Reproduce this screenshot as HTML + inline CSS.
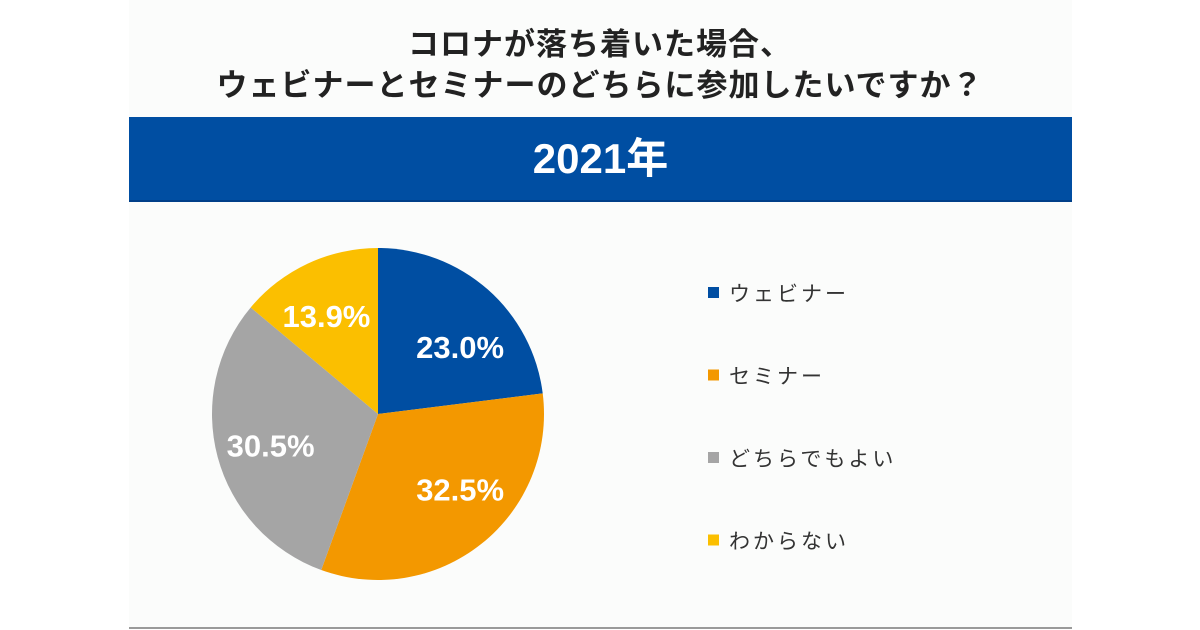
<!DOCTYPE html>
<html><head><meta charset="utf-8">
<style>
body{margin:0;width:1200px;height:630px;background:#fff;overflow:hidden;font-family:"Liberation Sans","Noto Sans CJK JP",sans-serif;}
#panel{position:absolute;left:129px;top:0;width:943px;height:627px;background:#fbfcfb;border-bottom:2px solid #9a9a9a;}
.title{position:absolute;left:0;width:1200px;text-align:center;font-weight:bold;font-size:31px;color:#222;letter-spacing:1px;}
#banner{position:absolute;left:129px;top:117px;width:943px;height:83px;background:#004ea2;border-bottom:2px solid #003f88;color:#fff;font-size:42px;font-weight:bold;text-align:center;line-height:83px;}
svg{position:absolute;left:0;top:0;}
</style></head><body>
<div id="panel"></div>
<div class="title" style="top:19px">コロナが落ち着いた場合、</div>
<div class="title" style="top:60px">ウェビナーとセミナーのどちらに参加したいですか？</div>
<div id="banner">2021年</div>
<svg id="chart" width="1200" height="630"></svg>
<script>
const categories=["ウェビナー","セミナー","どちらでもよい","わからない"];
const values=[23.0,32.5,30.5,13.9];
const labels=["23.0%","32.5%","30.5%","13.9%"];
const colors=["#004ea2","#f39800","#a5a5a5","#fbbf00"];
const labelDx=[14,18,-8,-8];
const labelDy=[10,-5,5,-5];
const cx=378,cy=414,r=166;
const svg=document.getElementById('chart');
const NS="http://www.w3.org/2000/svg";
const total=values.reduce((a,b)=>a+b,0);
let a0=0;
values.forEach((v,i)=>{
  const a1=a0+v/total*2*Math.PI;
  const x0=cx+r*Math.sin(a0),y0=cy-r*Math.cos(a0),x1=cx+r*Math.sin(a1),y1=cy-r*Math.cos(a1);
  const p=document.createElementNS(NS,'path');
  p.setAttribute('d',`M${cx},${cy}L${x0},${y0}A${r},${r} 0 ${a1-a0>Math.PI?1:0} 1 ${x1},${y1}Z`);
  p.setAttribute('fill',colors[i]);
  
  
  svg.appendChild(p);
  const am=(a0+a1)/2,lr=r*0.62;
  const t=document.createElementNS(NS,'text');
  t.setAttribute('x',cx+lr*Math.sin(am)+labelDx[i]);t.setAttribute('y',cy-lr*Math.cos(am)+11+labelDy[i]);
  t.setAttribute('text-anchor','middle');t.setAttribute('fill','#fff');
  t.setAttribute('font-size','31');t.setAttribute('font-weight','bold');
  t.setAttribute('font-family','"Liberation Sans",sans-serif');
  t.textContent=labels[i];
  
  
  svg.appendChild(t);
  const ly=293+i*82.5;
  const sq=document.createElementNS(NS,'rect');
  sq.setAttribute('x',708);sq.setAttribute('y',ly-6);sq.setAttribute('width',11);sq.setAttribute('height',11);sq.setAttribute('fill',colors[i]);
  
  
  svg.appendChild(sq);
  const lt=document.createElementNS(NS,'text');
  lt.setAttribute('x',729);lt.setAttribute('y',ly+8);lt.setAttribute('font-size','21');lt.setAttribute('fill','#333');
  lt.setAttribute('font-family','"Liberation Sans","Noto Sans CJK JP",sans-serif');
  lt.setAttribute('letter-spacing','3');
  lt.textContent=categories[i];
  
  
  svg.appendChild(lt);
  a0=a1;
});
</script>
</body></html>
